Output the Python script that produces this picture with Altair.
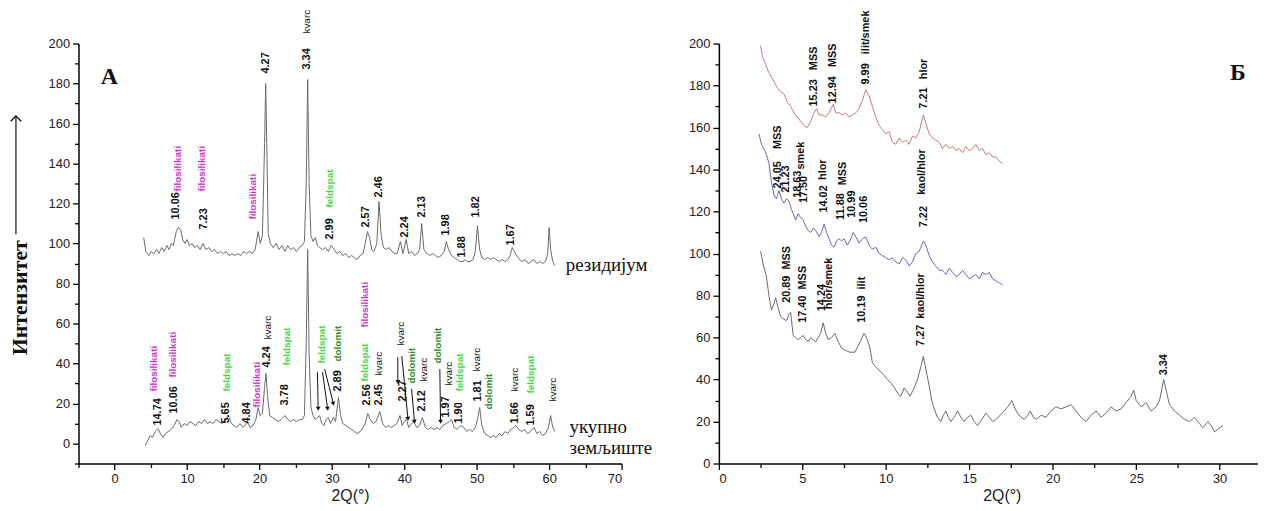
import math
import altair as alt
import pandas as pd

# ---------------- data: panel A (XRD patterns) ----------------
res_x = [4.0,4.3,4.7,5.0,5.4,5.8,6.1,6.5,6.8,7.2,7.5,7.8,8.1,8.5,8.8,9.1,9.4,9.7,10.0,10.3,10.7,11.0,11.4,11.8,12.2,12.6,13.0,13.4,13.8,14.2,14.6,15.0,15.4,15.8,16.2,16.6,17.0,17.4,17.8,18.2,18.6,19.0,19.4,19.8,20.1,20.4,20.7,20.85,21.0,21.2,21.5,21.9,22.3,22.7,23.1,23.5,23.9,24.3,24.7,25.1,25.5,25.9,26.2,26.45,26.65,26.85,27.1,27.4,27.7,28.0,28.3,28.7,29.1,29.5,29.9,30.3,30.7,31.1,31.5,31.9,32.3,32.7,33.1,33.5,33.9,34.3,34.6,34.9,35.2,35.5,35.8,36.2,36.5,36.8,37.1,37.5,37.9,38.3,38.7,39.0,39.45,39.8,40.25,40.6,41.0,41.4,41.8,42.1,42.4,42.7,43.1,43.5,43.9,44.3,44.7,45.1,45.5,45.8,46.1,46.5,46.9,47.3,47.7,48.1,48.4,48.7,49.1,49.5,49.8,50.1,50.4,50.7,51.1,51.5,51.9,52.3,52.7,53.1,53.5,53.9,54.3,54.6,54.9,55.2,55.5,55.9,56.3,56.7,57.1,57.5,57.9,58.3,58.7,59.1,59.5,59.8,60.0,60.2,60.5,60.8]
res_y = [103,96,94,96,95,97,95,98,96,99,97,100,99,106,108,107,102,100,102,99,100,98,99,97,100,97,98,96,97,95,96,95,96,94,95,94,95,94,96,95,96,95,97,106,100,104,150,180,150,105,100,98,100,97,99,96,99,97,98,96,98,99,101,130,182,130,104,101,103,99,98,97,98,96,99,97,95,96,94,95,93,94,93,92,94,95,100,106,103,97,96,100,121,104,98,97,98,96,95,95,101,95,102,95,96,94,95,97,110,97,95,94,95,94,93,94,96,101,97,94,93,92,91,91,92,91,91,92,96,109,97,93,92,93,92,93,92,91,92,91,92,94,98,96,94,92,91,92,90,91,92,90,91,90,91,95,108,97,91,89]

tot_x = [4.2,4.5,4.9,5.2,5.6,6.0,6.3,6.7,7.0,7.4,7.8,8.2,8.6,8.9,9.2,9.6,10.0,10.4,10.8,11.2,11.6,12.0,12.4,12.8,13.2,13.6,14.0,14.4,14.8,15.2,15.7,16.1,16.5,16.9,17.3,17.7,18.0,18.3,18.7,19.1,19.5,19.8,20.1,20.4,20.7,20.9,21.1,21.4,21.8,22.2,22.6,23.0,23.5,23.9,24.3,24.7,25.1,25.5,25.9,26.2,26.45,26.65,26.85,27.1,27.4,27.7,28.0,28.3,28.6,28.9,29.2,29.5,29.8,30.2,30.5,30.9,31.2,31.5,31.9,32.3,32.7,33.1,33.5,33.9,34.3,34.6,34.95,35.3,35.7,36.1,36.6,37.0,37.4,37.8,38.2,38.6,39.0,39.4,39.7,40.0,40.3,40.6,41.0,41.3,41.7,42.1,42.5,42.9,43.3,43.7,44.1,44.5,44.9,45.3,45.8,46.2,46.5,46.9,47.3,47.8,48.2,48.6,49.0,49.4,49.8,50.1,50.4,50.7,51.1,51.5,51.9,52.3,52.7,53.1,53.5,53.9,54.3,54.7,55.1,55.4,55.8,56.2,56.6,57.0,57.4,57.9,58.3,58.7,59.1,59.5,59.9,60.2,60.5,60.8]
tot_y = [-1,1,4,3,6,7.5,5,3,5,6,7,9,12,11,8,10,9,11,10,9,11,10,12,10,11,10,12,11,10,11,14,10,9,8,10,8,9,11,8,9,12,18,14,15,28,35,24,14,13,12,11,12,14,12,11,12,11,12,12,14,50,97,45,18,14,12,13,14,10,9,12,13,10,13,11,23,14,10,9,8,7,6,5,6,8,10,15,12,10,11,16,10,8,9,8,9,10,14,9,11,12,8,10,11,8,9,13,8,7,8,7,8,7,9,10,11,12,8,7,9,8,6,7,6,8,12,18,9,5,4,3,4,3,5,4,6,5,7,8,9,7,6,7,5,6,8,5,6,4,5,8,14,8,6]

# peak labels, panel A
a_text = ["filosilikati","10.06","filosilikati","7.23","filosilikati","4.27","kvarc","3.34","feldspat","2.99","2.57","2.46","2.24","2.13","1.98","1.88","1.82","1.67",
          "filosilikati","14.74","filosilikati","10.06","feldspat","5.65","4.84","filosilikati","4.24","kvarc","feldspat","3.78","feldspat","dolomit","2.89","filosilikati","feldspat","2.56","kvarc","2.45","kvarc","2.27","dolomit","kvarc","2.12","dolomit","kvarc","1.97","feldspat","1.90","kvarc","1.81","dolomit","kvarc","1.66","feldspat","1.59","kvarc"]
a_x = [8.7,8.4,12.1,12.3,19.1,20.9,26.5,26.5,29.8,29.8,34.7,36.5,40.1,42.4,45.7,48.0,49.9,54.7,
       5.4,6.0,8.0,8.2,15.5,15.4,18.3,19.7,21.0,21.2,23.8,23.5,28.6,30.9,30.9,34.6,34.6,34.9,36.5,36.5,39.5,39.8,41.0,42.7,42.5,44.7,46.2,45.8,47.7,47.5,50.1,50.2,51.7,55.3,55.3,57.5,57.5,60.5]
a_y = [126,112,126,107,112,185,205,187,118,102,108,123,103,113,104,93,113,99,
       26,9,33,15,26,10,10,18,38,52,39,19,40,41,26,58,31,19,34,19,49,21,30,31,16,40,29,13,26,10,36,21,17,26,10,25,9,21]
a_kind = ["filo","num","filo","num","filo","num","kvarc","num","feld","num","num","num","num","num","num","num","num","num",
          "filo","num","filo","num","feld","num","num","filo","num","kvarc","feld","num","feld","dolo","num","filo","feld","num","kvarc","num","kvarc","num","dolo","kvarc","num","dolo","kvarc","num","feld","num","kvarc","num","dolo","kvarc","num","feld","num","kvarc"]

# arrows, panel A (start -> end)
arr_x1 = [28.0,28.7,29.0,39.1,39.65,41.0,44.9]
arr_y1 = [35.7,35.7,37.2,43.2,43.7,27.3,37.2]
arr_x2 = [28.1,29.4,30.2,39.1,40.5,41.4,45.0]
arr_y2 = [17.4,17.4,19.9,30.8,12.4,10.9,10.9]

# ---------------- data: panel Б ----------------
red_x = [2.5,2.6,2.8,3.0,3.15,3.3,3.5,3.7,3.9,4.1,4.3,4.5,4.7,4.9,5.1,5.3,5.5,5.7,5.85,6.0,6.2,6.4,6.6,6.85,7.0,7.2,7.4,7.6,7.8,8.0,8.2,8.4,8.6,8.8,9.0,9.2,9.4,9.6,9.8,10.0,10.2,10.4,10.6,10.8,11.0,11.2,11.4,11.6,11.8,12.0,12.25,12.4,12.6,12.8,13.0,13.2,13.4,13.6,13.8,14.0,14.2,14.4,14.6,14.8,15.0,15.2,15.4,15.6,15.8,16.0,16.2,16.4,16.6,16.8,17.0]
red_y = [199,194,190,186,184,182,179,177,176,172,170,167,165,163,161,160,163,167,169,166,166,165,167,171,167,167,166,167,165,166,167,169,173,178,175,170,165,161,159,157,158,153,152,155,153,154,152,156,155,158,166,162,157,155,154,153,150,152,150,151,149,150,148,151,149,150,152,149,150,147,148,146,146,144,143]

blue_x = [2.4,2.55,2.7,2.85,3.0,3.15,3.3,3.45,3.6,3.75,3.9,4.05,4.2,4.35,4.5,4.6,4.75,4.9,5.05,5.2,5.35,5.5,5.65,5.8,6.0,6.15,6.3,6.45,6.6,6.75,6.9,7.05,7.2,7.35,7.5,7.7,7.9,8.05,8.2,8.4,8.6,8.8,9.0,9.2,9.4,9.6,9.8,10.0,10.2,10.4,10.6,10.8,11.0,11.2,11.4,11.6,11.8,12.0,12.25,12.4,12.6,12.8,13.0,13.2,13.4,13.6,13.8,14.0,14.2,14.4,14.6,14.8,15.0,15.2,15.4,15.6,15.8,16.0,16.2,16.4,16.6,16.8,17.0]
blue_y = [157,152,150,147,143,134,128,126,130,126,124,126,125,121,118,116,119,117,116,113,111,110,112,111,108,110,114,110,107,104,103,106,107,106,107,104,107,110,108,105,107,108,104,102,103,100,99,98,97,98,96,95,98,97,94,96,100,101,106,104,99,96,94,92,92,90,93,91,89,90,92,90,88,89,90,88,91,90,91,88,87,86,85]

blk_x = [2.5,2.65,2.85,3.0,3.15,3.3,3.4,3.55,3.7,3.85,4.05,4.2,4.3,4.45,4.6,4.75,4.9,5.05,5.2,5.35,5.5,5.65,5.8,5.95,6.1,6.25,6.4,6.55,6.75,6.95,7.15,7.35,7.55,7.85,8.15,8.4,8.7,8.9,9.05,9.2,9.4,9.65,9.9,10.1,10.35,10.6,10.75,10.9,11.1,11.3,11.45,11.7,11.9,12.1,12.25,12.4,12.6,12.75,12.9,13.1,13.3,13.45,13.6,13.75,13.9,14.1,14.3,14.5,14.7,14.9,15.1,15.3,15.5,15.75,16.0,16.2,16.4,16.6,16.85,17.1,17.3,17.55,17.75,17.9,18.1,18.3,18.5,18.65,18.85,19.05,19.3,19.6,19.9,20.2,20.5,20.8,21.1,21.4,21.7,22.0,22.3,22.6,22.9,23.2,23.5,23.8,24.1,24.4,24.7,24.85,25.0,25.3,25.6,25.9,26.2,26.4,26.65,26.85,27.0,27.3,27.6,27.9,28.2,28.5,28.8,29.0,29.3,29.5,29.7,30.0,30.2]
blk_y = [101,95,89,80,73,76,79,74,70,69,68,71,72,61,60,59,60,61,59,58,60,59,58,60,62,67,62,59,60,62,58,55,54,53,53,57,62,59,55,48,46,44,42,40,38,35,33,32,36,34,32,36,40,46,51,45,37,30,26,22,20,23,25,22,20,22,25,22,20,22,23,20,18,21,24,22,20,21,23,25,27,30,26,24,22,21,23,25,22,21,23,22,25,27,26,27,28,25,22,20,23,25,22,24,27,25,26,29,32,35,30,27,29,25,27,30,40,33,28,25,23,21,20,22,19,17,20,18,15,17,18]

b_text = ["15.23\u00a0\u00a0\u00a0MSS","12.94\u00a0\u00a0\u00a0MSS","9.99\u00a0\u00a0\u00a0ilit/smek","7.21","hlor",
          "24.05\u00a0\u00a0\u00a0\u00a0MSS","21.23","smek","18.63","17.50","14.02","hlor","11.88","MSS","10.99","10.06","7.22","kaol/hlor",
          "20.89\u00a0\u00a0MSS","17.40\u00a0\u00a0MSS","14.24","hlor/smek","10.19\u00a0\u00a0ilit","7.27\u00a0\u00a0kaol/hlor","3.34"]
b_x = [5.7,6.85,8.8,12.3,12.3,
       3.55,4.05,4.9,4.75,5.1,6.3,6.25,7.3,7.45,8.0,8.7,12.3,12.2,
       4.1,5.05,6.15,6.6,8.55,12.1,26.65]
b_y = [170,171.5,180.5,169,183,
       131,129,140,126.5,124,119.5,135,116,132.5,117,114.5,112.5,128,
       76.5,67,72.5,73.5,67,56,42]

# ---------------- frames ----------------
res_df = pd.DataFrame({"x": res_x, "y": res_y, "s": "res"})
tot_df = pd.DataFrame({"x": tot_x, "y": tot_y, "s": "tot"})
a_lines = pd.concat([res_df, tot_df], ignore_index=True)
a_lab = pd.DataFrame({"x": a_x, "y": a_y, "t": a_text, "k": a_kind})

WA, HA = 547, 423
WB, HB = 543, 423
A_XD, A_YD = [-5, 70], [-10, 200]
B_XD, B_YD = [0, 32.3], [0, 200]

kx = WA / (A_XD[1] - A_XD[0])
ky = HA / (A_YD[1] - A_YD[0])
arr_df = pd.DataFrame({"x": arr_x1, "y": arr_y1, "x2": arr_x2, "y2": arr_y2})
head_df = pd.DataFrame({
    "x": arr_x2, "y": arr_y2,
    "ang": [(-math.degrees(math.atan2((b - a) * kx, -(d - c) * ky))) % 360
            for a, b, c, d in zip(arr_x1, arr_x2, arr_y1, arr_y2)],
})

b_lines = pd.concat([
    pd.DataFrame({"x": red_x, "y": red_y, "s": "red"}),
    pd.DataFrame({"x": blue_x, "y": blue_y, "s": "blue"}),
    pd.DataFrame({"x": blk_x, "y": blk_y, "s": "blk"}),
], ignore_index=True)
b_lab = pd.DataFrame({"x": b_x, "y": b_y, "t": b_text})

SANS = "Liberation Sans"
SERIF = "Liberation Serif"


def axis(values, every, title=None, title_x=None):
    kw = dict(
        values=values,
        labelExpr=f"datum.value % {every} === 0 ? datum.label : ''",
        tickSize={"condition": {"test": f"datum.value % {every} === 0", "value": 6}, "value": 4},
        grid=False, domainColor="black", domainWidth=1.5, tickColor="black", tickWidth=1.3,
        labelFont=SANS, labelFontSize=13, labelColor="#222", labelPadding=3,
        titleFont=SANS, titleFontSize=16, titleFontWeight="normal", titleColor="#222",
        titlePadding=2,
    )
    kw["title"] = title
    if title_x is not None:
        kw["titleX"] = title_x
    return alt.Axis(**kw)


# ---------------- panel A ----------------
XA = alt.X("x:Q", scale=alt.Scale(domain=A_XD, nice=False, zero=False),
           axis=axis(list(range(-5, 75, 5)), 10, "2Q(°)"))
YA = alt.Y("y:Q", scale=alt.Scale(domain=A_YD, nice=False, zero=False),
           axis=axis(list(range(-10, 210, 10)), 20))

a_line = alt.Chart(a_lines).mark_line(color="#6a6a6a", strokeWidth=1).encode(x=XA, y=YA, detail="s:N")


def a_text_layer(kind, color, weight, size):
    return alt.Chart(a_lab).transform_filter(alt.datum.k == kind).mark_text(
        angle=270, align="left", baseline="middle", font=SANS, fontSize=size,
        fontWeight=weight, color=color).encode(x=XA, y=YA, text="t:N")


a_nums = a_text_layer("num", "#111", "bold", 11)
a_filo = a_text_layer("filo", "#d030d0", "bold", 10)
a_feld = a_text_layer("feld", "#3fd83f", "bold", 10)
a_dolo = a_text_layer("dolo", "#2c8c2c", "bold", 10)
a_kv = a_text_layer("kvarc", "#111", "normal", 10)

a_arr = alt.Chart(arr_df).mark_rule(color="#111", strokeWidth=1).encode(x=XA, y=YA, x2="x2:Q", y2="y2:Q")
a_heads = alt.Chart(head_df).mark_point(shape="triangle-down", filled=True, size=22, color="#111", opacity=1).encode(
    x=XA, y=YA, angle=alt.Angle("ang:Q", scale=None))

names_a = pd.DataFrame({"x": [62.3, 62.8, 62.8], "y": [89, 8.4, -2.5], "t": ["резидијум", "укупно", "земљиште"]})
a_names = alt.Chart(names_a).mark_text(align="left", baseline="middle", font=SERIF, fontSize=19, color="#111").encode(
    x=XA, y=YA, text="t:N")
tag_a = pd.DataFrame({"x": [-0.75], "y": [183], "t": ["А"]})
a_tag = alt.Chart(tag_a).mark_text(align="center", baseline="middle", font=SERIF, fontSize=24, fontWeight="bold",
                                   color="#111").encode(x=XA, y=YA, text="t:N")

ytitle = alt.Chart(pd.DataFrame({"t": ["Интензитет"]})).mark_text(
    angle=270, align="center", baseline="middle", font=SERIF, fontSize=22, fontWeight="bold", color="#111"
).encode(x=alt.value(-59), y=alt.value(256), text="t:N")
yarrow = alt.Chart(pd.DataFrame({"t": [0]})).mark_rule(color="#111", strokeWidth=1.2).encode(
    x=alt.value(-63), y=alt.value(74), y2=alt.value(192))
yhead = alt.Chart(pd.DataFrame({"t": [0]})).mark_point(
    shape="M-1,1L0,0L1,1", filled=False, size=110, color="#111", strokeWidth=1.3, opacity=1).encode(
    x=alt.value(-63), y=alt.value(73))

panel_a = alt.layer(a_line, a_arr, a_heads, a_nums, a_filo, a_feld, a_dolo, a_kv, a_names, a_tag,
                    ytitle, yarrow, yhead).properties(width=WA, height=HA)

# ---------------- panel Б ----------------
XB = alt.X("x:Q", scale=alt.Scale(domain=B_XD, nice=False, zero=False),
           axis=axis([v / 2 for v in range(0, 61, 5)], 5, "2Q(°)", title_x=285))
YB = alt.Y("y:Q", scale=alt.Scale(domain=B_YD, nice=False, zero=False),
           axis=axis(list(range(0, 210, 10)), 20))

b_line = alt.Chart(b_lines).mark_line(strokeWidth=1).encode(
    x=XB, y=YB, detail="s:N",
    color=alt.Color("s:N", scale=alt.Scale(domain=["red", "blue", "blk"], range=["#c47a7a", "#6868b8", "#6a6a6a"]),
                    legend=None))
b_txt = alt.Chart(b_lab).mark_text(angle=270, align="left", baseline="middle", font=SANS, fontSize=11,
                                   fontWeight="bold", color="#111").encode(x=XB, y=YB, text="t:N")
tag_b = pd.DataFrame({"x": [31.1], "y": [185.8], "t": ["Б"]})
b_tag = alt.Chart(tag_b).mark_text(align="center", baseline="middle", font=SERIF, fontSize=24, fontWeight="bold",
                                   color="#111").encode(x=XB, y=YB, text="t:N")

panel_b = alt.layer(b_line, b_txt, b_tag).properties(width=WB, height=HB)

chart = alt.hconcat(panel_a, panel_b, spacing=36).properties(
    padding={"left": 0, "top": 0, "right": 0, "bottom": 0}
).configure_view(stroke=None)

chart.save("out.html", embed_options={"renderer": "svg", "actions": False})
